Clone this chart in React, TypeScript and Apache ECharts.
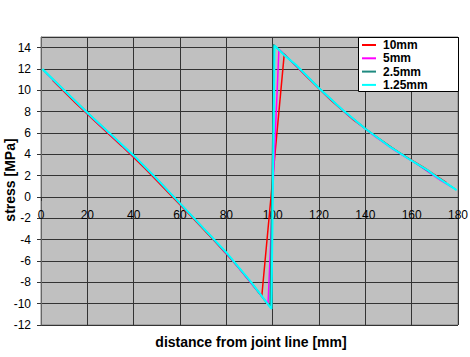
import React, { useEffect, useRef } from "react";
import * as echarts from "echarts";

const FONT = "'Liberation Sans', Arial, sans-serif";

const seriesNames = ["10mm", "5mm", "2.5mm", "1.25mm"];
const seriesColors = ["#ff0000", "#ff00ff", "#1f8a80", "#00ffff"];

// 10mm elements
const x10 = [5, 15, 25, 35, 45, 55, 65, 75, 85, 95.3, 105, 115, 125, 135, 145, 155, 165, 175];
const y10 = [10.95, 8.8, 6.75, 4.75, 2.65, 0.4, -1.85, -4.15, -6.55, -9.3, 13.4, 11.2, 9.1, 7.2, 5.6, 4.1, 2.8, 1.35];

// 5mm elements
const x5 = [2.5, 12.5, 22.5, 32.5, 42.5, 52.5, 62.5, 72.5, 82.5, 92.5, 98, 102.7, 112.5, 122.5, 132.5, 142.5, 152.5, 162.5, 172.5, 177.5];
const y5 = [11.55, 9.45, 7.35, 5.35, 3.3, 1.1, -1.2, -3.5, -5.9, -8.55, -10.0, 13.85, 11.8, 9.65, 7.7, 5.95, 4.4, 3.05, 1.55, 0.9];

// 2.5mm elements
const x25 = [1.25, 11.25, 21.25, 31.25, 41.25, 51.25, 61.25, 71.25, 81.25, 91.25, 96.25, 98.9, 100.3, 100.3, 101.25, 111.25, 121.25, 131.25, 141.25, 151.25, 161.25, 171.25, 178.75];
const y25 = [11.85, 9.75, 7.65, 5.65, 3.6, 1.4, -0.9, -3.2, -5.55, -8.15, -9.6, -10.3, 9.3, 14.3, 14.1, 12.1, 9.95, 7.95, 6.2, 4.65, 3.25, 1.85, 0.75];

// 1.25mm elements
const x125 = [0.6, 10, 20, 30, 40, 50, 60, 70, 80, 85, 90, 95, 99.5, 100.8, 105, 110, 115, 120, 130, 140, 150, 160, 167, 170, 179.4];
const y125 = [12, 10.0, 7.9, 5.9, 3.9, 1.7, -0.6, -2.9, -5.2, -6.5, -7.8, -9.2, -10.5, 14.2, 13.3, 12.4, 11.3, 10.2, 8.2, 6.4, 4.8, 3.4, 2.5, 2.0, 0.65];

const xTitle = "distance from joint line [mm]";
const yTitle = "stress [MPa]";

const Y_MIN = -12;
const Y_MAX = 15;
const GRID_TOP = 37;
const GRID_BOTTOM = 32;
const H = 357;

const zip = (xs: number[], ys: number[]) => xs.map((x, i) => [x, ys[i]]);

export default function App() {
  const ref = useRef<HTMLDivElement>(null);
  useEffect(() => {
    if (!ref.current) return;
    const chart = echarts.init(ref.current, null, { renderer: "svg" });
    const allX = [x10, x5, x25, x125];
    const allY = [y10, y5, y25, y125];
    const gridH = H - GRID_TOP - GRID_BOTTOM;
    // move the x axis (line + labels) up to the y = 0 level
    const xAxisOffset = -Math.round(((0 - Y_MIN) / (Y_MAX - Y_MIN)) * gridH);
    chart.setOption({
      animation: false,
      backgroundColor: "#ffffff",
      textStyle: { fontFamily: FONT },
      grid: {
        left: 41,
        right: 12,
        top: GRID_TOP,
        bottom: GRID_BOTTOM,
        containLabel: false,
        outerBoundsMode: "none",
        show: true,
        backgroundColor: "#c0c0c0",
        borderColor: "#808080",
        borderWidth: 1,
      },
      legend: {
        orient: "vertical",
        left: 358,
        top: 38,
        z: 20,
        data: seriesNames,
        icon: "rect",
        itemWidth: 14,
        itemHeight: 2,
        itemGap: 1.3,
        padding: [1, 4, 1, 4],
        textStyle: {
          fontFamily: FONT,
          fontSize: 12,
          fontWeight: "bold",
          color: "#000",
          lineHeight: 12,
          padding: [0, 0, 0, 2],
        },
      },
      xAxis: {
        type: "value",
        min: 0,
        max: 180,
        interval: 20,
        offset: xAxisOffset,
        axisLine: { show: true, onZero: false, lineStyle: { color: "#333", width: 1 } },
        axisTick: { show: true, length: 4, lineStyle: { color: "#333" } },
        axisLabel: { margin: 12, fontSize: 12, color: "#000", fontFamily: FONT },
        splitLine: { show: true, lineStyle: { color: "#333", width: 1 } },
      },
      yAxis: {
        type: "value",
        min: Y_MIN,
        max: Y_MAX,
        interval: 2,
        axisLine: { show: true, onZero: false, lineStyle: { color: "#666", width: 1 } },
        axisTick: { show: true, length: 4, lineStyle: { color: "#333" } },
        axisLabel: { margin: 10, fontSize: 12, color: "#000", fontFamily: FONT, showMaxLabel: false },
        splitLine: { show: true, lineStyle: { color: "#333", width: 1 } },
      },
      graphic: [
        {
          type: "rect",
          z: 15,
          shape: { x: 358.5, y: 37.5, width: 100, height: 54 },
          style: { fill: "#ffffff", stroke: "#000000", lineWidth: 1 },
        },
        {
          type: "text",
          x: 251,
          y: 342,
          style: {
            text: xTitle,
            font: "bold 14px " + FONT,
            fill: "#000",
            textAlign: "center",
            textVerticalAlign: "middle",
          },
        },
        {
          type: "text",
          x: 10,
          y: 180,
          rotation: Math.PI / 2,
          style: {
            text: yTitle,
            font: "bold 14px " + FONT,
            fill: "#000",
            textAlign: "center",
            textVerticalAlign: "middle",
          },
        },
      ],
      series: seriesNames.map((name, i) => ({
        name,
        type: "line",
        data: zip(allX[i], allY[i]),
        showSymbol: false,
        symbol: "none",
        color: seriesColors[i],
        lineStyle: { color: seriesColors[i], width: i === 3 ? 2 : 1.5 },
        z: 2 + i,
      })),
    });
    return () => chart.dispose();
  }, []);
  return (
    <div
      ref={ref}
      style={{ position: "fixed", left: 0, top: 0, width: 470, height: 357, background: "#fff" }}
    />
  );
}
